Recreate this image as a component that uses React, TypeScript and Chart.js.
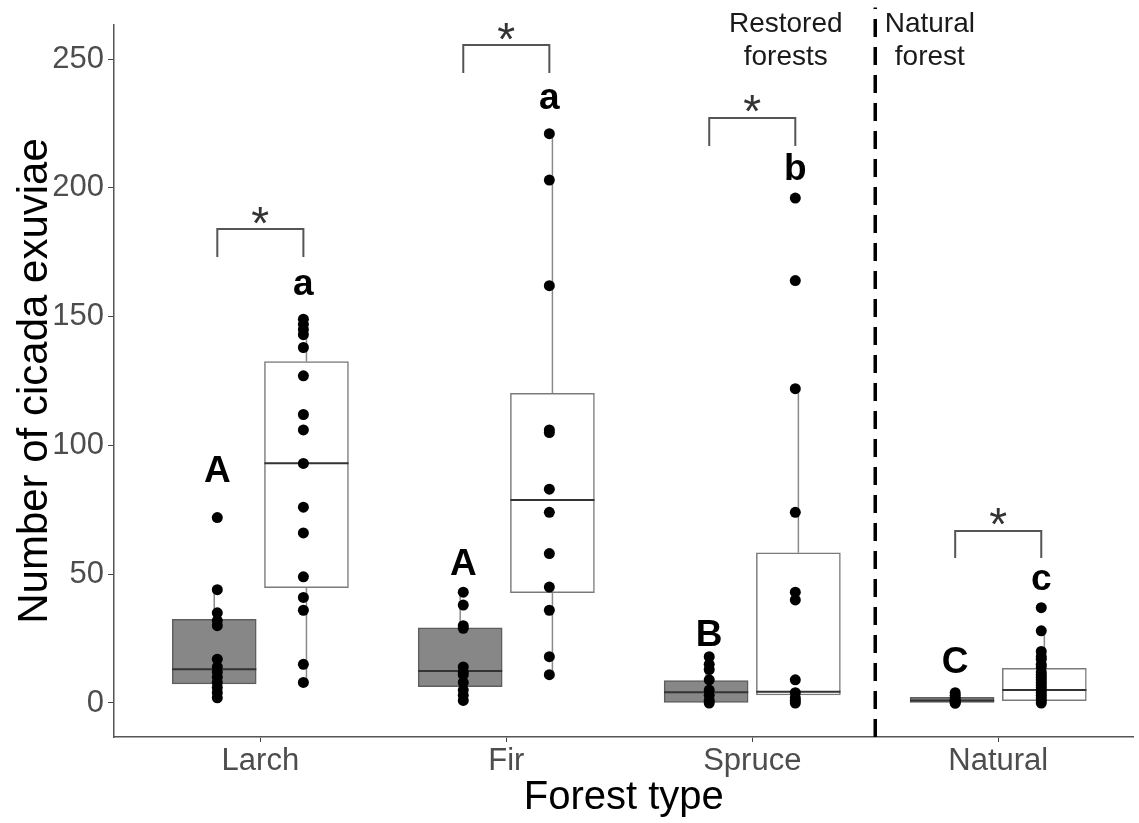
import React, { useEffect, useRef } from 'react';
import { Chart, registerables } from 'chart.js';

Chart.register(...registerables);

const FONT = '"Liberation Sans", Arial, Helvetica, sans-serif';

const CATEGORIES = ['Larch', 'Fir', 'Spruce', 'Natural'];
const Y_TICKS = [0, 50, 100, 150, 200, 250];

// grey (filled) boxes
const GRAY_MIN = [2, 1, 0, 0];
const GRAY_Q1 = [7.4, 6.3, 0, 0];
const GRAY_MEDIAN = [13.1, 12.4, 4.2, 1];
const GRAY_Q3 = [32.5, 29.2, 8.7, 2.2];
const GRAY_MAX = [44.5, 43, 18, 4];
const GRAY_POINTS = [
  [72, 44, 35, 32, 30, 17, 14, 12, 10, 8, 6, 4, 2],
  [43, 38, 30, 29, 14, 12, 11, 8, 5, 3, 1],
  [18, 15, 13, 9, 5, 3, 1, 0],
  [4, 3, 2, 1, 1, 0, 0],
];

// white (open) boxes
const WHITE_MIN = [8, 11.3, 0, 0];
const WHITE_Q1 = [44.8, 42.8, 3.1, 0.9];
const WHITE_MEDIAN = [93.1, 78.8, 4.4, 5];
const WHITE_Q3 = [132.5, 120.2, 58.3, 13.5];
const WHITE_MAX = [149, 221, 122, 27.6];
const WHITE_POINTS = [
  [149, 147, 145, 143, 138, 127, 112, 106, 93, 76, 66, 49, 41, 36, 15, 8],
  [221, 203, 162, 106, 105, 83, 74, 58, 45, 36, 18, 11],
  [196, 164, 122, 74, 43, 40, 9, 4, 2, 1, 0],
  [37, 28, 20, 18, 17, 15, 14, 12, 11, 10, 9, 8, 7, 6, 5, 4, 3, 2, 1, 0],
];

// letters of significance
const GRAY_LETTERS = ['A', 'A', 'B', 'C'];
const WHITE_LETTERS = ['a', 'a', 'b', 'c'];
const GRAY_LETTER_Y = [85.6, 49.5, 22.3, 11.5];
const WHITE_LETTER_Y = [158.2, 230.5, 203, 43.8];

// pairwise brackets
const BRACKET_TOP = [184, 255.4, 227.1, 66.8];
const BRACKET_LEG = [173.1, 244.6, 216.2, 56.3];
const BRACKET_LABEL = ['*', '*', '*', '*'];

// region divider and labels
const DIVIDER_X = 3.5;
const DIVIDER_Y = [-13.2, 270];
const REGION_LABELS = [['Restored', 'forests'], ['Natural', 'forest']];
const REGION_X = [3.136, 3.722];
const REGION_Y = [260.5, 247.7];

const BOX_DODGE = 0.1875;
const POINT_DODGE = 0.175;
const BOX_HALF = 0.171;

const boxPos = (k: number, side: number) => k + 1 + side * BOX_DODGE;

const boxData = (q1: number[], q3: number[], side: number) =>
  q1.map((v, k) => ({ x: boxPos(k, side), y: [v, q3[k]] }));

const medianData = (med: number[], side: number) =>
  med.flatMap((m, k) => {
    const c = boxPos(k, side);
    return [
      { x: c - BOX_HALF, y: m },
      { x: c + BOX_HALF, y: m },
      { x: c + BOX_HALF, y: null },
    ];
  });

const whiskerData = (mn: number[], q1: number[], q3: number[], mx: number[], side: number) =>
  mn.flatMap((_, k) => {
    const x = boxPos(k, side);
    return [
      { x, y: q3[k] },
      { x, y: mx[k] },
      { x, y: null },
      { x, y: q1[k] },
      { x, y: mn[k] },
      { x, y: null },
    ];
  });

const pointData = (pts: number[][], side: number) =>
  pts.flatMap((arr, k) => arr.map((v) => ({ x: k + 1 + side * POINT_DODGE, y: v })));

const bracketData = CATEGORIES.flatMap((_, k) => {
  const l = k + 1 - POINT_DODGE;
  const r = k + 1 + POINT_DODGE;
  return [
    { x: l, y: BRACKET_LEG[k] },
    { x: l, y: BRACKET_TOP[k] },
    { x: r, y: BRACKET_TOP[k] },
    { x: r, y: BRACKET_LEG[k] },
    { x: r, y: null },
  ];
});

const annotations = {
  id: 'annotations',
  afterDraw(chart: any) {
    const { ctx, scales } = chart;
    const x = scales.x;
    const y = scales.y;
    ctx.save();
    ctx.textAlign = 'center';
    ctx.textBaseline = 'alphabetic';

    // letters
    ctx.fillStyle = '#000000';
    ctx.font = `bold 37px ${FONT}`;
    CATEGORIES.forEach((_, k) => {
      ctx.fillText(GRAY_LETTERS[k], x.getPixelForValue(k + 1 - POINT_DODGE), y.getPixelForValue(GRAY_LETTER_Y[k]));
      ctx.fillText(WHITE_LETTERS[k], x.getPixelForValue(k + 1 + POINT_DODGE), y.getPixelForValue(WHITE_LETTER_Y[k]));
    });

    // asterisks
    ctx.font = `100px ${FONT}`;
    const m0 = ctx.measureText('*');
    const w100 = m0.actualBoundingBoxLeft + m0.actualBoundingBoxRight;
    const size = (100 * 17) / (w100 || 33);
    ctx.font = `${size}px ${FONT}`;
    ctx.fillStyle = '#333333';
    const m = ctx.measureText('*');
    CATEGORIES.forEach((_, k) => {
      const cx = x.getPixelForValue(k + 1);
      const cy = y.getPixelForValue(BRACKET_TOP[k]) - 14;
      const base = cy + (m.actualBoundingBoxAscent - m.actualBoundingBoxDescent) / 2;
      const off = (m.actualBoundingBoxLeft - m.actualBoundingBoxRight) / 2;
      ctx.fillText(BRACKET_LABEL[k], cx + off, base);
    });

    // region labels
    ctx.fillStyle = '#1a1a1a';
    ctx.font = `28px ${FONT}`;
    REGION_LABELS.forEach((lines, r) => {
      lines.forEach((t, li) => {
        ctx.fillText(t, x.getPixelForValue(REGION_X[r]), y.getPixelForValue(REGION_Y[li]));
      });
    });
    ctx.restore();
  },
};

export default function App() {
  const ref = useRef<HTMLCanvasElement | null>(null);

  useEffect(() => {
    if (!ref.current) return;
    const chart = new Chart(ref.current, {
      type: 'scatter',
      data: {
        datasets: [
          {
            type: 'scatter',
            label: 'white points',
            data: pointData(WHITE_POINTS, 1),
            backgroundColor: '#000000',
            borderWidth: 0,
            pointRadius: 5.5,
            order: 0,
          },
          {
            type: 'scatter',
            label: 'grey points',
            data: pointData(GRAY_POINTS, -1),
            backgroundColor: '#000000',
            borderWidth: 0,
            pointRadius: 5.5,
            order: 0,
          },
          {
            type: 'line',
            label: 'grey medians',
            data: medianData(GRAY_MEDIAN, -1),
            borderColor: '#333333',
            borderWidth: 2,
            pointRadius: 0,
            spanGaps: false,
            order: 1,
          },
          {
            type: 'line',
            label: 'white medians',
            data: medianData(WHITE_MEDIAN, 1),
            borderColor: '#333333',
            borderWidth: 2,
            pointRadius: 0,
            spanGaps: false,
            order: 1,
          },
          {
            type: 'line',
            label: 'brackets',
            data: bracketData,
            borderColor: '#555555',
            borderWidth: 2,
            pointRadius: 0,
            spanGaps: false,
            clip: false,
            order: 1,
          },
          {
            type: 'line',
            label: 'grey whiskers',
            data: whiskerData(GRAY_MIN, GRAY_Q1, GRAY_Q3, GRAY_MAX, -1),
            borderColor: '#8a8a8a',
            borderWidth: 1.5,
            pointRadius: 0,
            spanGaps: false,
            order: 2,
          },
          {
            type: 'line',
            label: 'white whiskers',
            data: whiskerData(WHITE_MIN, WHITE_Q1, WHITE_Q3, WHITE_MAX, 1),
            borderColor: '#8a8a8a',
            borderWidth: 1.5,
            pointRadius: 0,
            spanGaps: false,
            order: 2,
          },
          {
            type: 'line',
            label: 'divider',
            data: DIVIDER_Y.map((v) => ({ x: DIVIDER_X, y: v })),
            borderColor: '#000000',
            borderWidth: 3.5,
            borderDash: [18, 10],
            pointRadius: 0,
            clip: false,
            order: 2,
          },
          {
            type: 'bar',
            label: 'grey boxes',
            data: boxData(GRAY_Q1, GRAY_Q3, -1) as any,
            backgroundColor: '#878787',
            borderColor: '#5e5e5e',
            borderWidth: 1.5,
            borderSkipped: false,
            barThickness: 84,
            grouped: false,
            order: 3,
          },
          {
            type: 'bar',
            label: 'white boxes',
            data: boxData(WHITE_Q1, WHITE_Q3, 1) as any,
            backgroundColor: '#ffffff',
            borderColor: '#7a7a7a',
            borderWidth: 1.5,
            borderSkipped: false,
            barThickness: 84,
            grouped: false,
            order: 3,
          },
        ] as any,
      },
      options: {
        responsive: false,
        animation: false,
        layout: { padding: { top: 25, right: 0, left: 0, bottom: 0 } },
        plugins: {
          legend: { display: false },
          tooltip: { enabled: false },
        },
        scales: {
          x: {
            type: 'linear',
            min: 0.405,
            max: 4.55,
            offset: false,
            afterBuildTicks: (s: any) => {
              s.ticks = CATEGORIES.map((_, k) => ({ value: k + 1 }));
            },
            afterFit: (s: any) => {
              s.height = 86;
              s.paddingLeft = 0;
              s.paddingRight = 0;
            },
            ticks: {
              autoSkip: false,
              maxRotation: 0,
              padding: 1,
              color: '#4d4d4d',
              font: { family: FONT, size: 31 },
              callback: (v: any) => CATEGORIES[Math.round(Number(v)) - 1] ?? '',
            },
            grid: { display: true, drawOnChartArea: false, drawTicks: true, tickLength: 5, color: '#444444', offset: false },
            border: { display: true, color: '#555555', width: 1.5 },
            title: {
              display: true,
              text: 'Forest type',
              color: '#000000',
              font: { family: FONT, size: 40 },
              padding: { top: 0, bottom: 1 },
            },
          },
          y: {
            type: 'linear',
            min: -13.2,
            max: 263.2,
            afterBuildTicks: (s: any) => {
              s.ticks = Y_TICKS.map((v) => ({ value: v }));
            },
            afterFit: (s: any) => {
              s.width = 114;
            },
            ticks: {
              padding: 4,
              color: '#4d4d4d',
              font: { family: FONT, size: 31 },
            },
            grid: { display: true, drawOnChartArea: false, drawTicks: true, tickLength: 6, color: '#444444' },
            border: { display: true, color: '#555555', width: 1.5 },
            title: {
              display: true,
              text: 'Number of cicada exuviae',
              color: '#000000',
              font: { family: FONT, size: 42 },
              padding: { top: 10, bottom: 0 },
            },
          },
        },
      } as any,
      plugins: [annotations],
    });
    return () => chart.destroy();
  }, []);

  return (
    <canvas
      ref={ref}
      width={1139}
      height={823}
      style={{ position: 'absolute', left: 0, top: 0, background: '#ffffff' }}
    />
  );
}
